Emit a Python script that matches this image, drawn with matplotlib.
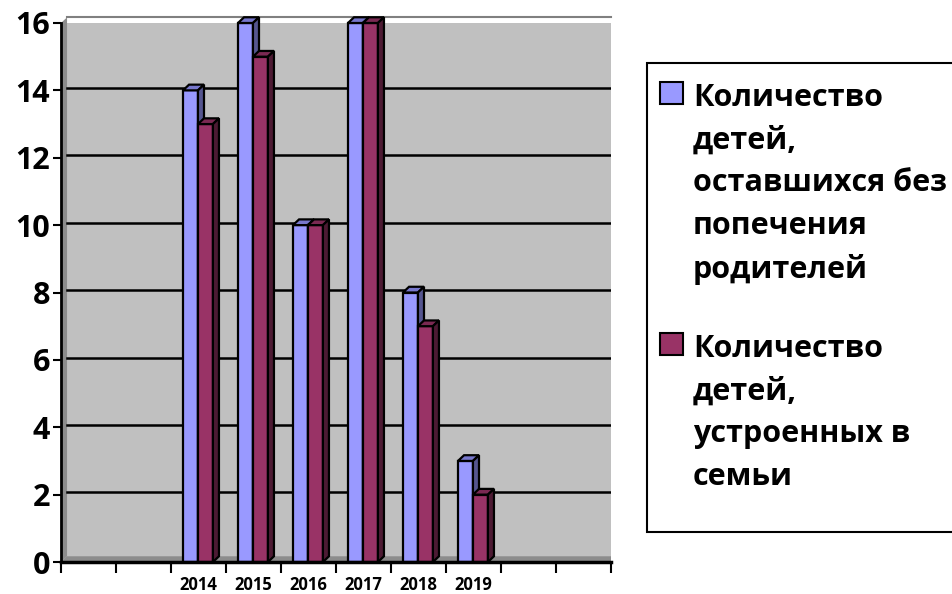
import matplotlib.pyplot as plt
from matplotlib.patches import Polygon, Rectangle

# chart data
categories = ["", "", "2014", "2015", "2016", "2017", "2018", "2019", "", ""]
left_out = [None, None, 14, 16, 10, 16, 8, 3, None, None]
placed = [None, None, 13, 15, 10, 16, 7, 2, None, None]
series_names = [
    "Количество\nдетей,\nоставшихся без\nпопечения\nродителей",
    "Количество\nдетей,\nустроенных в\nсемьи",
]

W, H = 952, 594
plt.rcParams["font.family"] = ["Open Sans", "DejaVu Sans"]
plt.rcParams["font.weight"] = "bold"

fig = plt.figure(figsize=(W / 100, H / 100), dpi=100)
ax = fig.add_axes([61 / W, 1 - 562 / H, 550 / W, 539 / H])

ax.set_facecolor("#C0C0C0")
ax.set_xlim(0, len(categories))
ax.set_ylim(0, 16)

# back wall side / floor strips
dx, dy = 0.11, 0.17
ax.add_patch(Polygon([(0, 0), (dx, dy), (dx, 16 + dy), (0, 16)], closed=True,
                     facecolor="#8C8C8C", edgecolor="none", zorder=1, clip_on=False))
ax.add_patch(Polygon([(0, 0), (dx, dy), (len(categories), dy), (len(categories), 0)],
                     closed=True, facecolor="#8C8C8C", edgecolor="none", zorder=1))

for y in range(2, 16, 2):
    ax.plot([dx, len(categories)], [y + 0.07, y + 0.07], color="black", lw=1.8, zorder=2)
ax.plot([dx, len(categories)], [16 + dy, 16 + dy], color="#808080", lw=1.5,
        zorder=2, clip_on=False)


def bar3d(x0, w, h, front, top, side):
    kw = dict(closed=True, edgecolor="black", lw=1.6, zorder=3, clip_on=False,
              joinstyle="miter")
    ax.add_patch(Polygon([(x0, 0), (x0 + w, 0), (x0 + w, h), (x0, h)], facecolor=front, **kw))
    ax.add_patch(Polygon([(x0, h), (x0 + w, h), (x0 + w + dx, h + dy), (x0 + dx, h + dy)],
                         facecolor=top, **kw))
    ax.add_patch(Polygon([(x0 + w, 0), (x0 + w + dx, dy), (x0 + w + dx, h + dy), (x0 + w, h)],
                         facecolor=side, **kw))


bw = 0.272
for i, (a, b) in enumerate(zip(left_out, placed)):
    if a is None:
        continue
    bar3d(i + 0.218, bw, a, "#9999FF", "#7777CC", "#55558F")
    bar3d(i + 0.218 + bw, bw, b, "#993366", "#7A2952", "#4D1A33")

ax.spines["top"].set_visible(False)
ax.spines["right"].set_visible(False)
ax.spines["left"].set_linewidth(2)
ax.spines["bottom"].set_linewidth(2.5)
ax.spines["left"].set_zorder(5)
ax.spines["bottom"].set_zorder(5)

ax.set_yticks(range(0, 17, 2))
ax.tick_params(axis="y", labelsize=22, length=6, width=1.5, pad=2)
ax.set_xticks(range(0, len(categories) + 1))
ax.set_xticklabels([])
ax.set_xticks([i + 0.5 for i in range(len(categories))], minor=True)
ax.set_xticklabels(categories, minor=True, fontsize=12)
ax.tick_params(axis="x", which="major", length=8, width=1.5)
ax.tick_params(axis="x", which="minor", length=0, pad=10)

# legend
def fx(p):
    return p / W


def fy(p):
    return 1 - p / H


fig.patches.append(Rectangle((fx(647), fy(532)), fx(400), 469 / H, transform=fig.transFigure,
                             facecolor="white", edgecolor="black", lw=1.5, figure=fig))
colors = ["#9999FF", "#993366"]
for name, col, ytop in zip(series_names, colors, [82, 333]):
    fig.patches.append(Rectangle((fx(660), fy(ytop + 22)), 23 / W, 22 / H,
                                 transform=fig.transFigure, facecolor=col,
                                 edgecolor="black", lw=1.5, figure=fig))
    fig.text(fx(693), fy(ytop + 1), name, fontsize=22, fontweight="bold",
             va="top", ha="left", linespacing=1.55)

fig.savefig("out.png", dpi=100)
